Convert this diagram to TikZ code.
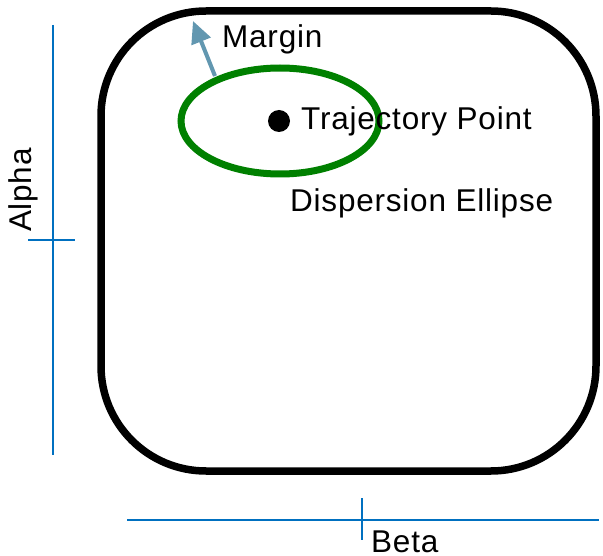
\documentclass[tikz,border=0pt]{standalone}
\usepackage{fontspec}
\setmainfont{Liberation Sans}[LetterSpace=2.5]
\usetikzlibrary{arrows.meta,shapes.geometric}
\definecolor{dispgreen}{RGB}{0,128,0}
\definecolor{axisblue}{RGB}{0,112,192}
\definecolor{marginblue}{RGB}{98,151,176}
\tikzset{
  axisline/.style={draw=axisblue, line width=1.6},
  lbl/.style={font=\fontsize{31.5}{34}\selectfont, inner sep=0pt, anchor=west},
}
\begin{document}
\begin{tikzpicture}[x=1pt, y=-1pt]
  \useasboundingbox (0,0) rectangle (603,556);

  % Alpha axis
  \coordinate (atop) at (53,25);
  \coordinate (abot) at (53,455);
  \coordinate (atl) at (28,240);
  \coordinate (atr) at (75,240);
  \draw[axisline] (atop) -- (abot);
  \draw[axisline] (atl) -- (atr);
  \node[lbl, anchor=center, rotate=90] (alpha) at (23,190) {Alpha};

  % Beta axis
  \coordinate (bl) at (127,520);
  \coordinate (br) at (599,520);
  \coordinate (btt) at (362,498);
  \coordinate (btb) at (362,540);
  \draw[axisline] (bl) -- (br);
  \draw[axisline] (btt) -- (btb);
  \node[lbl] (beta) at (371,542) {Beta};

  % Trajectory region
  \draw[line width=7.5, rounded corners=105] (101,11) rectangle (596,471);

  % Dispersion ellipse and point
  \node[ellipse, draw=dispgreen, line width=7, minimum width=198, minimum height=106] (disp) at (280,121) {};
  \node[circle, fill=black, minimum size=22, inner sep=0pt] (tpoint) at (279,121) {};
  \node[lbl] (tplbl) at (301,121) {Trajectory Point};
  \node[lbl] (displbl) at (290,203) {Dispersion Ellipse};

  % Margin
  \coordinate (mstart) at (215,76);
  \coordinate (mtip) at (193,21);
  \draw[marginblue, line width=4, -{Triangle[length=22,width=20]}] (mstart) -- (mtip);
  \node[lbl] (margin) at (222,39) {Margin};
\end{tikzpicture}
\end{document}
